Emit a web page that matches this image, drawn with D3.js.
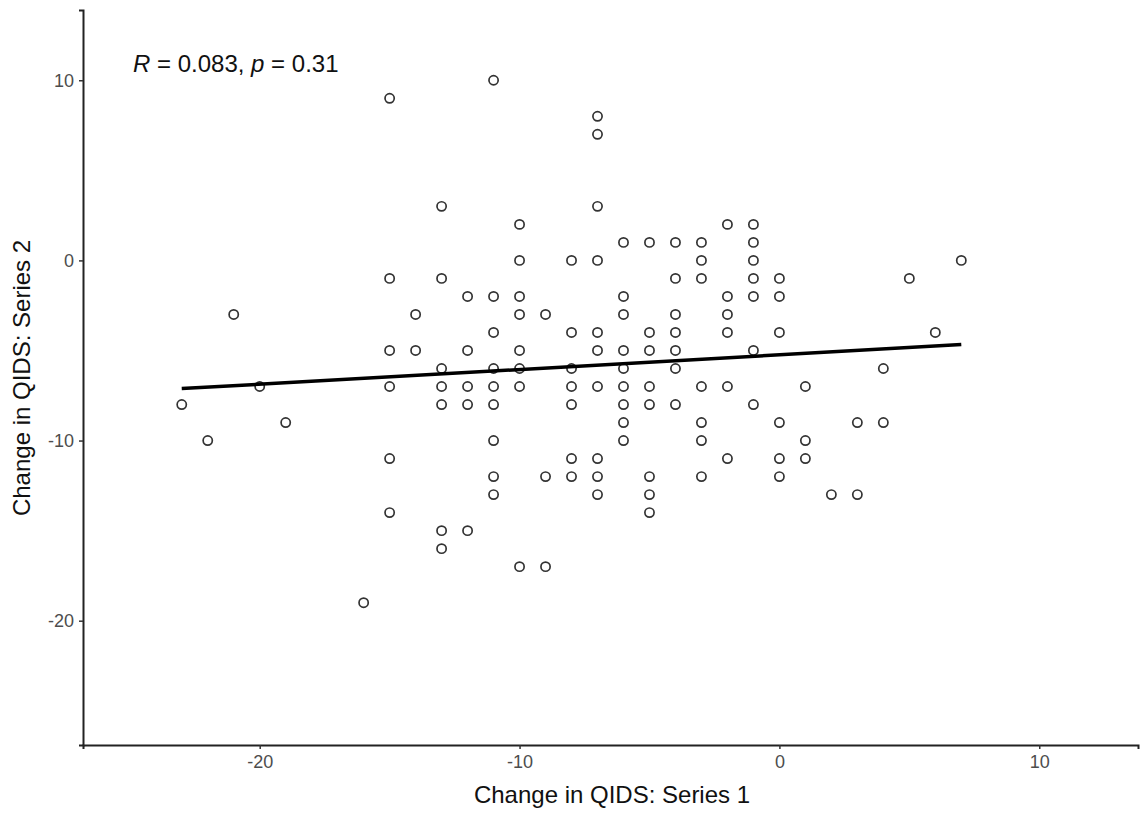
<!DOCTYPE html>
<html>
<head>
<meta charset="utf-8">
<script src="https://cdn.jsdelivr.net/npm/d3@7"></script>
<style>
  body { margin: 0; background: #fff; }
  text { font-family: "Liberation Sans", Arial, sans-serif; }
</style>
</head>
<body>
<svg id="chart" width="1141" height="814"></svg>
<script>
// change in QIDS, series 1 (x) and series 2 (y), one entry per visible point
var seriesX = [
  -23, -22, -21, -20, -19, -16,
  -15, -15, -15, -15, -15, -15,
  -14, -14,
  -13, -13, -13, -13, -13, -13, -13,
  -12, -12, -12, -12, -12,
  -11, -11, -11, -11, -11, -11, -11, -11, -11,
  -10, -10, -10, -10, -10, -10, -10, -10,
  -9, -9, -9,
  -8, -8, -8, -8, -8, -8, -8,
  -7, -7, -7, -7, -7, -7, -7, -7, -7, -7,
  -6, -6, -6, -6, -6, -6, -6, -6, -6,
  -5, -5, -5, -5, -5, -5, -5, -5,
  -4, -4, -4, -4, -4, -4, -4,
  -3, -3, -3, -3, -3, -3, -3,
  -2, -2, -2, -2, -2, -2,
  -1, -1, -1, -1, -1, -1, -1,
  0, 0, 0, 0, 0, 0,
  1, 1, 1,
  2, 3, 3, 4, 4, 5, 6, 7
];
var seriesY = [
  -8, -10, -3, -7, -9, -19,
  9, -1, -5, -7, -11, -14,
  -3, -5,
  3, -1, -6, -7, -8, -15, -16,
  -2, -5, -7, -8, -15,
  10, -2, -4, -6, -7, -8, -10, -12, -13,
  2, 0, -2, -3, -5, -6, -7, -17,
  -3, -12, -17,
  0, -4, -6, -7, -8, -11, -12,
  8, 7, 3, 0, -4, -5, -7, -11, -12, -13,
  1, -2, -3, -5, -6, -7, -8, -9, -10,
  1, -4, -5, -7, -8, -12, -13, -14,
  1, -1, -3, -4, -5, -6, -8,
  1, 0, -1, -7, -9, -10, -12,
  2, -2, -3, -4, -7, -11,
  2, 1, 0, -1, -2, -5, -8,
  -1, -2, -4, -9, -11, -12,
  -7, -10, -11,
  -13, -9, -13, -6, -9, -1, -4, 0
];
var xTicks = [-20, -10, 0, 10];
var yTicks = [-20, -10, 0, 10];
var statR = "0.083", statP = "0.31";

var svg = d3.select("#chart");

var x = d3.scaleLinear().domain([-26.8, 13.8]).range([83, 1138]);
var y = d3.scaleLinear().domain([-26.9, 13.9]).range([745, 10]);

var points = seriesX.map(function(v, i) { return {x: v, y: seriesY[i]}; });

// least squares fit, like geom_smooth(method = "lm")
var mx = d3.mean(seriesX), my = d3.mean(seriesY);
var sxy = d3.sum(points, function(d) { return (d.x - mx) * (d.y - my); });
var sxx = d3.sum(points, function(d) { return (d.x - mx) * (d.x - mx); });
var slope = sxy / sxx, intercept = my - slope * mx;
var xExt = d3.extent(seriesX);

// plain hyphen labels, as in the original
var plain = function(d) { return String(d); };

var xAxis = svg.append("g")
    .attr("transform", "translate(0,745)")
    .call(d3.axisBottom(x).tickValues(xTicks).tickFormat(plain).tickSizeOuter(0).tickSize(4).tickPadding(6));
var yAxis = svg.append("g")
    .attr("transform", "translate(83,0)")
    .call(d3.axisLeft(y).tickValues(yTicks).tickFormat(plain).tickSizeOuter(0).tickSize(4).tickPadding(5));

[xAxis, yAxis].forEach(function(a) {
  a.select(".domain").attr("stroke", "#222").attr("stroke-width", 2);
  a.selectAll(".tick line").attr("stroke", "#333").attr("stroke-width", 1.5);
  a.selectAll(".tick text").attr("fill", "#4d4d4d").style("font-size", "18px");
});

// points
svg.append("g").selectAll("circle")
    .data(points)
    .enter().append("circle")
    .attr("cx", function(d) { return x(d.x); })
    .attr("cy", function(d) { return y(d.y); })
    .attr("r", 4.6)
    .attr("fill", "none")
    .attr("stroke", "#333")
    .attr("stroke-width", 1.7);

// regression line
svg.append("line")
    .attr("x1", x(xExt[0])).attr("y1", y(intercept + slope * xExt[0]))
    .attr("x2", x(xExt[1])).attr("y2", y(intercept + slope * xExt[1]))
    .attr("stroke", "#000")
    .attr("stroke-width", 3.5);

// annotation
var ann = svg.append("text")
    .attr("x", 133).attr("y", 72)
    .style("font-size", "24px")
    .attr("fill", "#111");
ann.append("tspan").style("font-style", "italic").text("R");
ann.append("tspan").text(" = " + statR + ", ");
ann.append("tspan").style("font-style", "italic").text("p");
ann.append("tspan").text(" = " + statP);

// axis titles
svg.append("text")
    .attr("x", 612).attr("y", 803)
    .attr("text-anchor", "middle")
    .style("font-size", "24px")
    .attr("fill", "#111")
    .text("Change in QIDS: Series 1");

svg.append("text")
    .attr("transform", "translate(30,378) rotate(-90)")
    .attr("text-anchor", "middle")
    .style("font-size", "24px")
    .attr("fill", "#111")
    .text("Change in QIDS: Series 2");
</script>
</body>
</html>
